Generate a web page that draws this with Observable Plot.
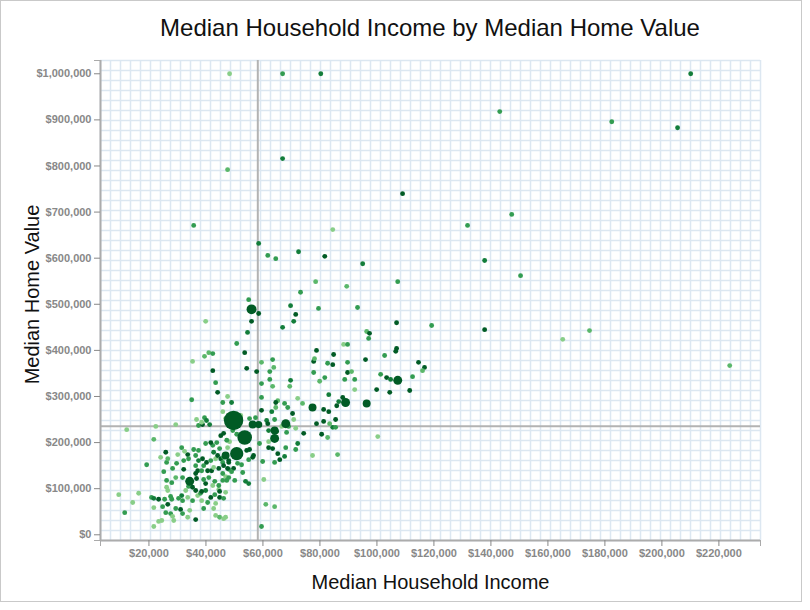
<!DOCTYPE html>
<html>
<head>
<meta charset="utf-8">
<script src="https://cdn.jsdelivr.net/npm/d3@7"></script>
<script src="https://cdn.jsdelivr.net/npm/@observablehq/plot@0.6"></script>
<style>
  body { margin: 0; background: #fff; font-family: "Liberation Sans", Arial, sans-serif; }
  #box { position: relative; width: 800px; height: 600px; border: 1px solid #c9c9c9; overflow: hidden; }
  #title { position: absolute; left: 0; width: 858px; top: 15px; line-height: 24px; text-align: center; font-size: 24px; color: #111; }
  #chart { position: absolute; left: 0; top: 0; }
</style>
</head>
<body>
<div id="box">
  <div id="chart"></div>
  <div id="title">Median Household Income by Median Home Value</div>
</div>
<script>
// Median household income, thousands of dollars
const income = [
  48.3,66.9,80.3,210.1,143.1,182.4,205.5,66.9,47.6,109.0,
  35.7,131.8,147.3,84.5,58.5,61.7,64.5,72.5,81.7,95.0,
  137.8,150.4,78.5,89.4,107.3,137.8,165.2,174.6,223.8,119.2,
  100.3,73.2,55.0,56.0,58.5,69.7,79.5,71.5,70.8,56.0,
  66.9,54.6,93.2,106.9,96.4,97.4,97.1,88.3,89.7,78.8,
  84.8,96.0,106.9,106.6,102.7,50.8,53.6,39.9,41.0,42.4,
  39.5,35.3,42.4,54.3,57.8,59.5,63.4,63.8,62.4,77.8,
  78.1,82.7,84.5,89.7,89.7,91.1,77.8,81.7,79.9,88.7,
  92.2,101.3,103.4,104.8,107.3,112.5,114.6,116.7,116.0,99.9,
  104.5,111.5,92.2,69.7,69.4,62.4,63.4,59.5,43.4,44.1,
  47.6,35.0,45.9,59.5,65.2,72.2,73.9,83.1,88.0,86.6,
  89.0,85.9,96.4,77.4,81.3,83.1,85.5,78.8,81.3,83.4,
  84.5,85.5,80.6,82.7,77.4,86.2,67.6,68.7,70.4,64.5,
  64.5,59.5,63.1,61.3,61.7,64.1,68.0,70.8,69.0,66.6,
  64.1,62.0,64.8,68.3,74.3,71.5,72.2,68.0,71.5,64.1,
  62.0,58.8,62.0,63.4,65.2,65.9,67.6,64.1,59.9,60.3,
  61.0,64.1,59.5,57.4,55.3,52.2,49.0,56.4,58.5,49.7,
  53.6,50.8,49.4,48.3,50.8,54.3,55.3,56.7,56.4,55.0,
  48.0,51.1,52.5,49.7,49.0,48.0,52.9,46.9,50.1,53.9,
  55.0,47.3,46.9,46.9,12.2,22.4,29.4,21.7,19.2,9.4,
  16.4,14.3,11.5,20.9,21.7,21.7,21.7,23.4,23.4,24.5,
  25.5,26.6,24.8,27.6,28.0,25.9,27.6,26.2,28.0,26.2,
  26.6,24.1,25.2,26.2,25.9,26.6,30.1,29.7,28.3,31.5,
  33.6,32.2,32.2,29.4,31.8,34.3,36.4,32.9,31.5,30.4,
  33.9,35.3,36.4,33.6,37.1,38.1,35.3,31.8,29.4,28.3,
  28.7,31.1,31.8,34.3,36.4,33.6,39.2,38.5,40.6,43.4,
  42.7,43.4,44.8,46.2,41.7,43.1,44.8,46.2,44.5,42.4,
  39.9,38.5,36.7,39.2,39.9,41.0,43.1,44.5,45.9,44.8,
  37.1,38.5,40.6,42.0,39.2,36.4,37.4,38.8,40.2,41.7,
  43.4,42.7,44.1,45.2,45.9,46.2,44.5,42.7,46.2,46.9,
  44.8,42.4,39.9,37.4,35.7,36.4,33.9,32.5,41.7,43.8,
  45.2,46.2,47.3,47.6,48.0,47.6,48.0,45.9,37.4,38.8,
  39.5,38.5,40.2,41.3,45.9,36.7,46.9
];
// Median home value, thousands of dollars
const homeValue = [
  1000,1000,1000,1000,918,896,883,816,792,740,
  671,671,695,662,632,606,599,614,604,588,
  595,562,549,539,549,445,424,443,367,454,
  213,526,510,489,480,497,491,478,463,463,
  450,439,493,460,441,437,426,413,413,400,
  391,380,404,398,389,415,395,463,395,393,
  387,376,356,361,354,374,380,363,354,376,
  382,372,369,374,352,354,352,341,333,337,
  337,348,341,337,335,343,374,363,356,315,
  309,313,315,335,322,337,322,328,330,309,
  300,293,287,298,291,296,285,304,298,289,
  287,280,285,276,272,267,250,241,246,241,
  233,233,218,211,172,174,285,276,263,287,
  276,270,267,248,241,250,241,250,235,235,
  226,226,224,222,220,231,198,189,185,209,
  202,198,189,187,176,163,170,157,159,120,
  66,61,18,254,252,259,287,239,239,248,
  211,176,226,202,218,183,185,172,168,163,
  161,155,152,144,137,142,135,126,118,116,
  111,118,92,38,228,235,239,207,152,87,
  90,70,48,81,79,59,18,77,29,31,
  77,66,61,83,77,48,46,118,113,103,
  96,168,137,157,179,165,174,155,144,189,
  174,161,142,124,124,116,133,96,85,79,
  105,103,96,81,85,90,74,74,57,40,
  31,55,46,53,33,38,57,74,70,68,
  57,42,38,35,81,87,81,79,98,107,
  96,94,122,120,111,124,116,107,118,94,
  139,139,139,139,150,150,161,165,157,161,
  165,179,172,165,157,150,144,146,168,172,
  187,194,198,183,185,172,165,181,200,200,
  215,220,205,189,157,144,124,133,237,239,
  254,244,248,239,267,250,252
];
// Colour variable (1 = lightest green, 5 = darkest)
const shade = [
  1,3,4,4,3,3,4,4,2,5,
  3,3,3,1,4,3,3,4,5,4,
  4,3,2,2,3,5,1,2,2,3,
  1,3,3,5,5,4,3,5,4,5,
  4,4,3,5,2,5,3,1,3,5,
  5,5,5,5,3,3,5,1,2,3,
  2,1,5,5,5,2,3,2,3,5,
  2,3,5,3,5,2,3,3,2,3,
  3,3,5,4,5,3,5,5,2,5,
  5,5,1,4,2,3,2,3,3,5,
  1,3,3,3,2,1,2,4,5,4,
  5,5,5,5,5,5,5,5,5,2,
  4,3,5,2,1,2,3,3,5,5,
  2,5,4,4,5,3,5,1,3,1,
  5,4,5,3,5,1,4,3,3,5,
  1,3,5,5,5,5,4,3,3,1,
  2,2,3,3,3,1,4,5,5,5,
  5,5,3,1,3,5,5,5,5,3,
  5,3,3,5,3,3,3,1,3,4,
  4,3,1,1,1,1,1,2,3,1,
  1,1,3,3,4,1,1,5,1,1,
  3,5,3,3,3,3,3,3,3,1,
  1,1,3,3,5,2,1,3,3,3,
  5,3,5,2,3,5,5,1,4,3,
  3,5,5,1,1,3,3,3,3,1,
  1,5,3,1,5,1,3,1,3,1,
  1,1,2,1,5,3,5,3,1,1,
  4,5,5,3,5,3,3,3,3,5,
  5,3,5,5,3,3,4,5,5,3,
  1,4,5,5,3,5,5,1,3,5,
  3,3,3,3,3,3,3,1,5,3,
  5,5,3,1,5,5,3,3,3,5,
  3,1,4,4,1,1,1
];
// Size variable (population, thousands)
const population = [
  100,100,100,100,100,100,100,100,100,100,
  100,100,100,100,100,100,100,100,100,100,
  100,100,100,100,100,100,100,100,100,100,
  100,100,100,420,100,100,100,100,100,100,
  100,100,100,100,100,100,100,100,100,100,
  100,100,100,100,100,100,100,100,100,100,
  100,100,100,100,100,100,100,100,100,100,
  100,100,100,100,100,100,100,100,100,100,
  100,100,100,100,340,100,100,100,100,100,
  100,100,100,100,100,100,100,100,100,100,
  100,100,100,100,100,100,100,100,100,100,
  340,100,270,270,100,100,100,100,100,100,
  100,100,100,100,100,100,100,100,100,100,
  100,100,100,100,100,100,340,100,100,100,
  270,100,100,100,100,100,100,100,100,340,
  100,100,100,100,100,100,100,100,100,100,
  100,100,100,100,100,100,100,270,220,1600,
  900,750,100,100,100,100,100,100,100,100,
  100,100,100,100,100,100,100,100,100,100,
  100,100,100,100,100,100,100,100,100,100,
  100,100,100,100,100,100,100,100,100,100,
  100,100,100,100,100,100,100,100,100,100,
  100,100,100,100,100,100,100,100,100,100,
  100,100,100,100,100,340,100,100,100,100,
  100,100,100,100,100,100,100,100,100,100,
  100,100,100,100,100,100,100,100,100,100,
  100,100,100,100,100,100,100,100,100,100,
  100,100,100,100,100,100,100,100,100,100,
  100,100,100,100,100,100,100,100,100,100,
  100,100,100,100,100,100,100,100,100,270,
  100,100,100,100,100,100,100,100,100,100,
  100,100,100,100,100,100,100,100,100,100,
  100,100,100,100,100,100,100
];
// Reference lines (dollars)
const incomeReference = 58200;
const homeValueReference = 235600;
// Tick values
const xTicks = [20000, 40000, 60000, 80000, 100000, 120000, 140000, 160000, 180000, 200000, 220000];
const yTicks = [0, 100000, 200000, 300000, 400000, 500000, 600000, 700000, 800000, 900000, 1000000];

const xDomain = [3000, 234600];
const yDomain = [-12400, 1028800];

const data = income.map((d, i) => ({
  income: d * 1000,
  value: homeValue[i] * 1000,
  shade: shade[i],
  population: population[i] * 1000
})).sort((a, b) => a.population - b.population);

// graph-paper background: 66 x 48 cells
const gridX = d3.range(67).map(i => xDomain[0] + i * (xDomain[1] - xDomain[0]) / 66);
const gridY = d3.range(49).map(i => yDomain[0] + i * (yDomain[1] - yDomain[0]) / 48);

const fmt = d3.format("$,");

const chart = Plot.plot({
  width: 800,
  height: 600,
  marginLeft: 99,
  marginRight: 41,
  marginTop: 59,
  marginBottom: 61,
  style: { fontFamily: "'Liberation Sans', Arial, sans-serif", background: "transparent", overflow: "visible" },
  x: { domain: xDomain, label: null },
  y: { domain: yDomain, label: null },
  r: { type: "sqrt", domain: [0, 1700000], range: [0, 10] },
  color: { type: "linear", domain: [1, 5], interpolate: t => d3.interpolateGreens(0.44 + 0.49 * t) },
  marks: [
    Plot.ruleX(gridX, { stroke: "#dce7f1", strokeWidth: 1.5 }),
    Plot.ruleY(gridY, { stroke: "#dce7f1", strokeWidth: 1.5 }),
    Plot.ruleX([incomeReference], { stroke: "#b3b3b3", strokeWidth: 2 }),
    Plot.ruleY([homeValueReference], { stroke: "#b3b3b3", strokeWidth: 2 }),
    Plot.dot(data, { x: "income", y: "value", r: "population", fill: "shade", sort: null }),
    Plot.ruleX([xDomain[0]], { stroke: "#acacac", strokeWidth: 2 }),
    Plot.ruleY([yDomain[0]], { stroke: "#acacac", strokeWidth: 2 }),
    Plot.axisY(yTicks, { tickFormat: fmt, tickSize: 6, tickPadding: 3, fontSize: 11, fontWeight: "bold", color: "#888", label: null }),
    Plot.axisX(xTicks, { tickFormat: fmt, tickSize: 6, tickPadding: 3, fontSize: 11, fontWeight: "bold", color: "#888", label: null }),
    Plot.axisY(yDomain, { tickFormat: () => "", tickSize: 6, color: "#aaa", label: null }),
    Plot.axisX(xDomain, { tickFormat: () => "", tickSize: 6, color: "#aaa", label: null }),
    Plot.text(["Median Household Income"], { frameAnchor: "bottom", dy: 48, fontSize: 20, fill: "#111" }),
    Plot.text(["Median Home Value"], { frameAnchor: "left", textAnchor: "middle", dx: -68, dy: -6, rotate: -90, fontSize: 20, fill: "#111" })
  ]
});
document.getElementById("chart").append(chart);
</script>
</body>
</html>
